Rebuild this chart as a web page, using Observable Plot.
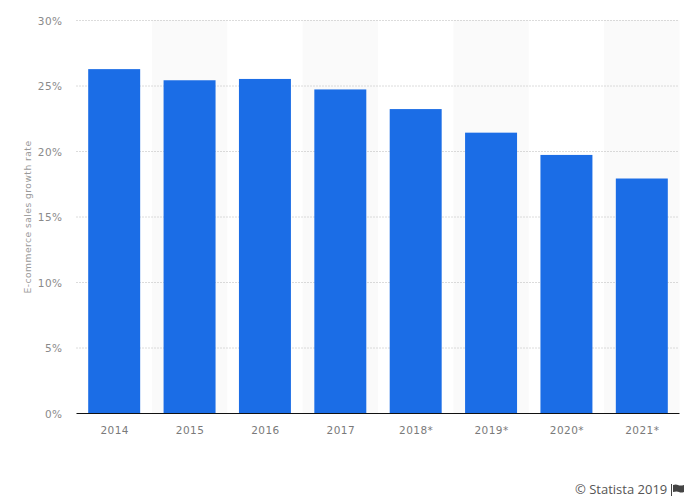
<!DOCTYPE html>
<html>
<head>
<meta charset="utf-8">
<script src="https://cdn.jsdelivr.net/npm/d3@7"></script>
<script src="https://cdn.jsdelivr.net/npm/@observablehq/plot@0.6"></script>
<style>
html,body{margin:0;padding:0;background:#fff;}
#wrap{position:relative;width:699px;height:503px;overflow:hidden;}
#credit{position:absolute;left:575px;top:480px;font:13px "Open Sans",sans-serif;color:#555;white-space:nowrap;line-height:18px;}
#flag{position:absolute;left:671px;top:484px;}
svg{display:block;}
svg text{letter-spacing:0.45px;}
</style>
</head>
<body>
<div id="wrap"><div id="credit">© Statista 2019</div>
<svg id="flag" width="14" height="12" viewBox="0 0 14 12"><path d="M0.5 0V12" stroke="#444" stroke-width="1" fill="none"/><path d="M2 1Q5 0 7 1T13 1V8Q10 9 8 8T2 8Z" fill="#444"/></svg></div>
<script>
const years = ["2014","2015","2016","2017","2018*","2019*","2020*","2021*"];
const growth = [26.25,25.4,25.5,24.7,23.2,21.4,19.7,17.9];
const stripeYears = ["2015","2017","2019*","2021*"];
const yTicks = [0,5,10,15,20,25,30];
const rows = years.map((year,i)=>({year,value:growth[i]}));

const chart = Plot.plot({
  width:699,height:503,
  marginLeft:76.5,marginRight:19.5,marginTop:20,marginBottom:90,
  style:{background:"#fff",fontFamily:"'DejaVu Sans',sans-serif"},
  x:{domain:years,padding:0,round:false,label:null,tickSize:0},
  y:{domain:[0,30],label:null},
  marks:[
    Plot.barY(stripeYears,{x:d=>d,y1:()=>0,y2:()=>30,fill:"#fafafa"}),
    Plot.ruleY(yTicks.filter(t=>t>0),{stroke:"#b8b8b8",strokeWidth:1,strokeDasharray:"1,2"}),
    Plot.barY(rows,{x:"year",y:"value",fill:"#1b6de6",insetLeft:11.7,insetRight:11.7}),
    Plot.ruleY([0],{stroke:"#111",strokeWidth:1.2}),
    Plot.axisX({tickSize:0,tickPadding:13,fontSize:10.5,fill:"#7a7a7a",fontFamily:"'DejaVu Sans',sans-serif"}),
    Plot.axisY({ticks:yTicks,tickSize:0,tickPadding:14.5,dy:1,tickFormat:d=>d+"%",fontSize:10.5,fill:"#8a8a8a",label:null,fontFamily:"'DejaVu Sans',sans-serif"}),
    Plot.text(["E-commerce sales growth rate"],{frameAnchor:"left",textAnchor:"middle",dx:-49,rotate:-90,fontSize:9.2,fill:"#999",fontFamily:"'DejaVu Sans',sans-serif"})
  ]
});
document.getElementById("wrap").prepend(chart);
</script>
</body>
</html>
